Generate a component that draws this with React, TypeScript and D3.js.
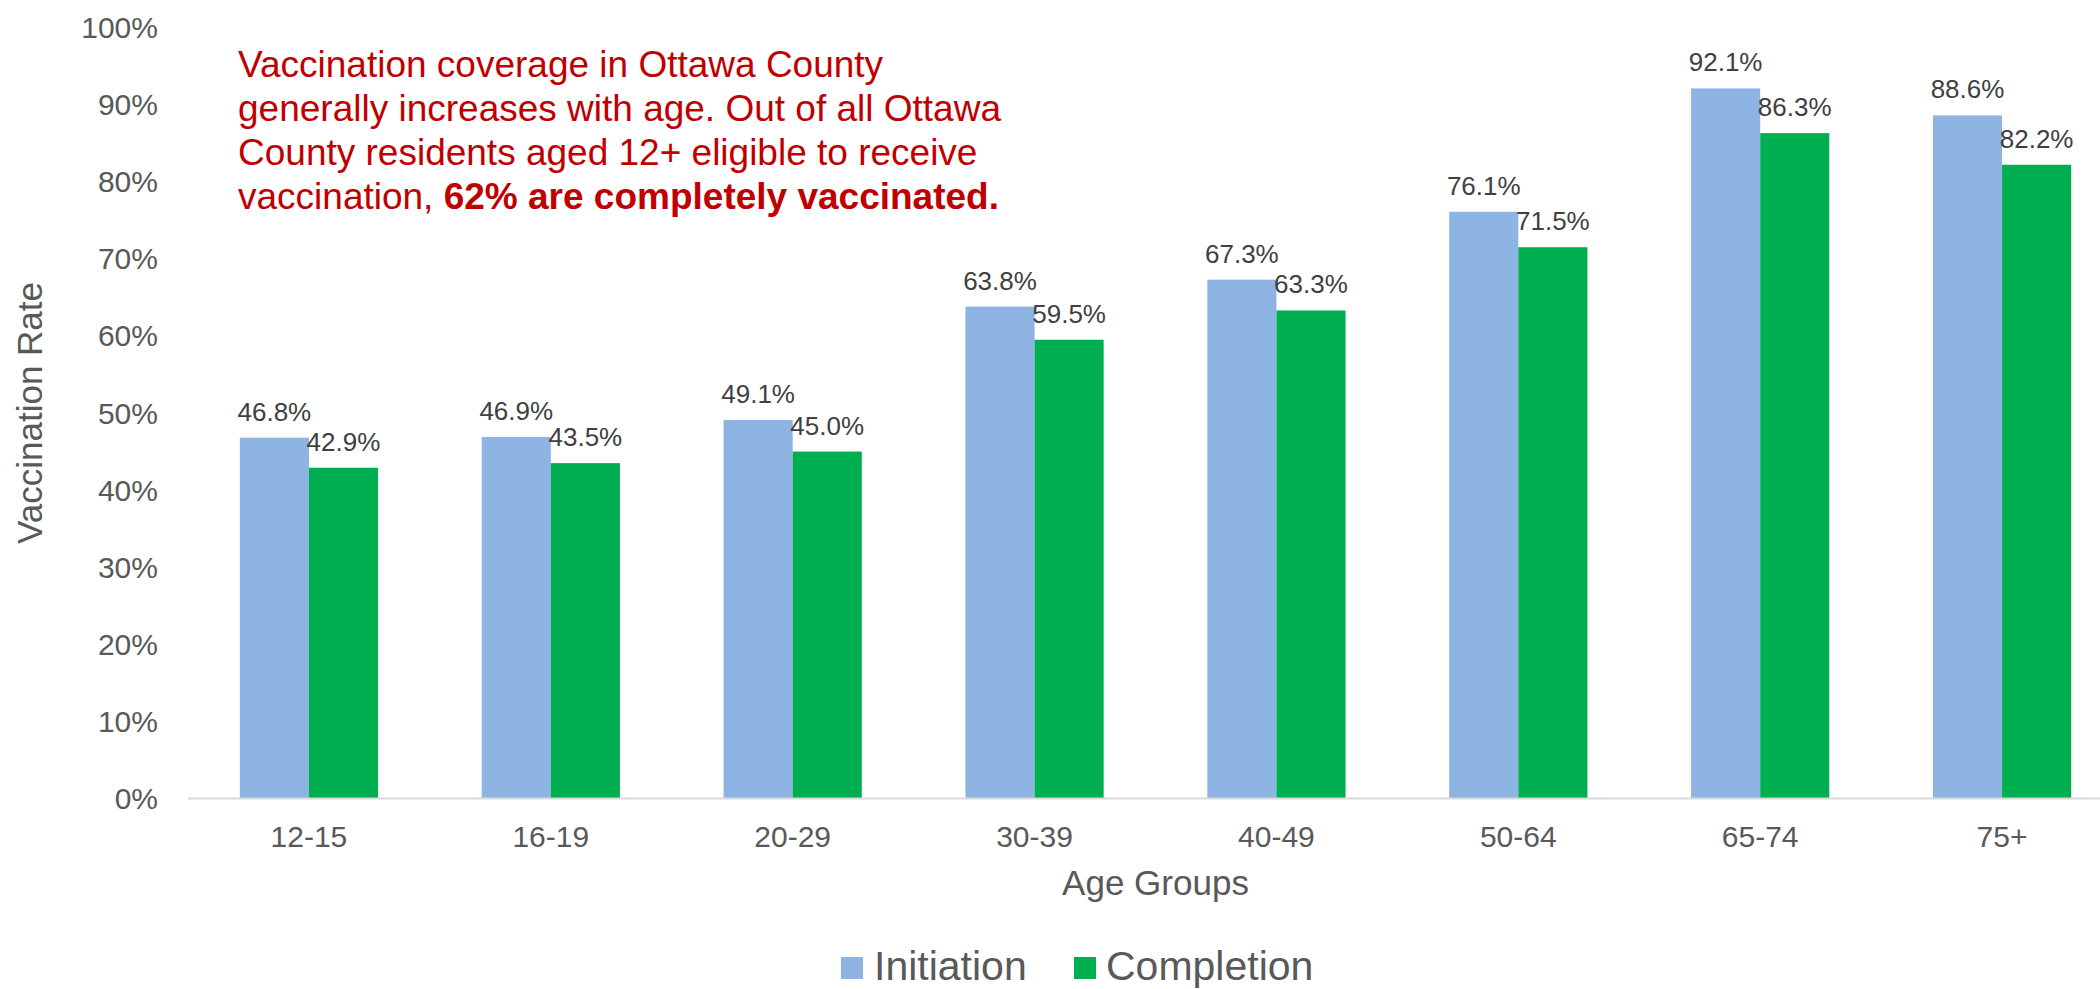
import { useEffect } from 'react'
import { scaleBand, scaleLinear } from 'd3'

const ageGroups = ['12-15', '16-19', '20-29', '30-39', '40-49', '50-64', '65-74', '75+']
const initiation = [46.8, 46.9, 49.1, 63.8, 67.3, 76.1, 92.1, 88.6]
const completion = [42.9, 43.5, 45.0, 59.5, 63.3, 71.5, 86.3, 82.2]
const seriesNames = ['Initiation', 'Completion']
const yTicks = [0, 10, 20, 30, 40, 50, 60, 70, 80, 90, 100]

const colors: Record<string, string> = {
  Initiation: '#8EB4E3',
  Completion: '#00B050',
}

const width = 2100
const height = 989
const font = '"Liberation Sans", Arial, sans-serif'

export default function App() {
  useEffect(() => {
    document.body.style.margin = '0'
  }, [])

  const yScale = scaleLinear().domain([0, 100]).range([798.5, 27.5])

  const xScale = scaleBand<string>()
    .domain(ageGroups)
    .range([188, 2123])
    .paddingInner(3 / 7)
    .paddingOuter(1.5 / 7)

  const seriesScale = scaleBand<string>()
    .domain(seriesNames)
    .range([0, xScale.bandwidth()])

  const values: Record<string, number[]> = {
    Initiation: initiation,
    Completion: completion,
  }

  const baseline = yScale(0)

  return (
    <svg
      width={width}
      height={height}
      viewBox={`0 0 ${width} ${height}`}
      style={{ display: 'block', background: '#fff', fontFamily: font }}
    >
      {/* bars */}
      {ageGroups.map((group, i) => (
        <g key={group} transform={`translate(${xScale(group)}, 0)`}>
          {seriesNames.map((name) => {
            const v = values[name][i]
            const x = seriesScale(name) ?? 0
            const y = yScale(v)
            return (
              <g key={name}>
                <rect
                  x={x}
                  y={y}
                  width={seriesScale.bandwidth()}
                  height={baseline - y}
                  fill={colors[name]}
                />
                <text
                  x={x + seriesScale.bandwidth() / 2}
                  y={y - 17}
                  textAnchor="middle"
                  fontSize={26}
                  fill="#404040"
                >
                  {v.toFixed(1)}%
                </text>
              </g>
            )
          })}
        </g>
      ))}

      {/* x axis line */}
      <line x1={188} x2={width} y1={baseline} y2={baseline} stroke="#D9D9D9" strokeWidth={2} />

      {/* y tick labels */}
      {yTicks.map((t) => (
        <text
          key={t}
          x={158}
          y={yScale(t)}
          dy="0.35em"
          textAnchor="end"
          fontSize={30}
          fill="#595959"
        >
          {t}%
        </text>
      ))}

      {/* x tick labels */}
      {ageGroups.map((group) => (
        <text
          key={group}
          x={(xScale(group) ?? 0) + xScale.bandwidth() / 2}
          y={847}
          textAnchor="middle"
          fontSize={30}
          fill="#595959"
        >
          {group}
        </text>
      ))}

      {/* axis titles */}
      <text
        transform={`translate(42, ${(yScale(0) + yScale(100)) / 2}) rotate(-90)`}
        textAnchor="middle"
        fontSize={35}
        fill="#595959"
      >
        Vaccination Rate
      </text>
      <text x={1155.5} y={895} textAnchor="middle" fontSize={35} fill="#595959">
        Age Groups
      </text>

      {/* annotation */}
      <text x={238} y={77} fontSize={37} fill="#C00000">
        <tspan x={238}>Vaccination coverage in Ottawa County</tspan>
        <tspan x={238} dy={44}>generally increases with age. Out of all Ottawa</tspan>
        <tspan x={238} dy={44}>County residents aged 12+ eligible to receive</tspan>
        <tspan x={238} dy={44}>
          vaccination, <tspan fontWeight="bold">62% are completely vaccinated.</tspan>
        </tspan>
      </text>

      {/* legend */}
      <g>
        <rect x={841} y={957} width={22} height={22} fill={colors.Initiation} />
        <text x={874} y={980} fontSize={41} fill="#595959">
          Initiation
        </text>
        <rect x={1074} y={957} width={22} height={22} fill={colors.Completion} />
        <text x={1106} y={980} fontSize={41} fill="#595959">
          Completion
        </text>
      </g>
    </svg>
  )
}
